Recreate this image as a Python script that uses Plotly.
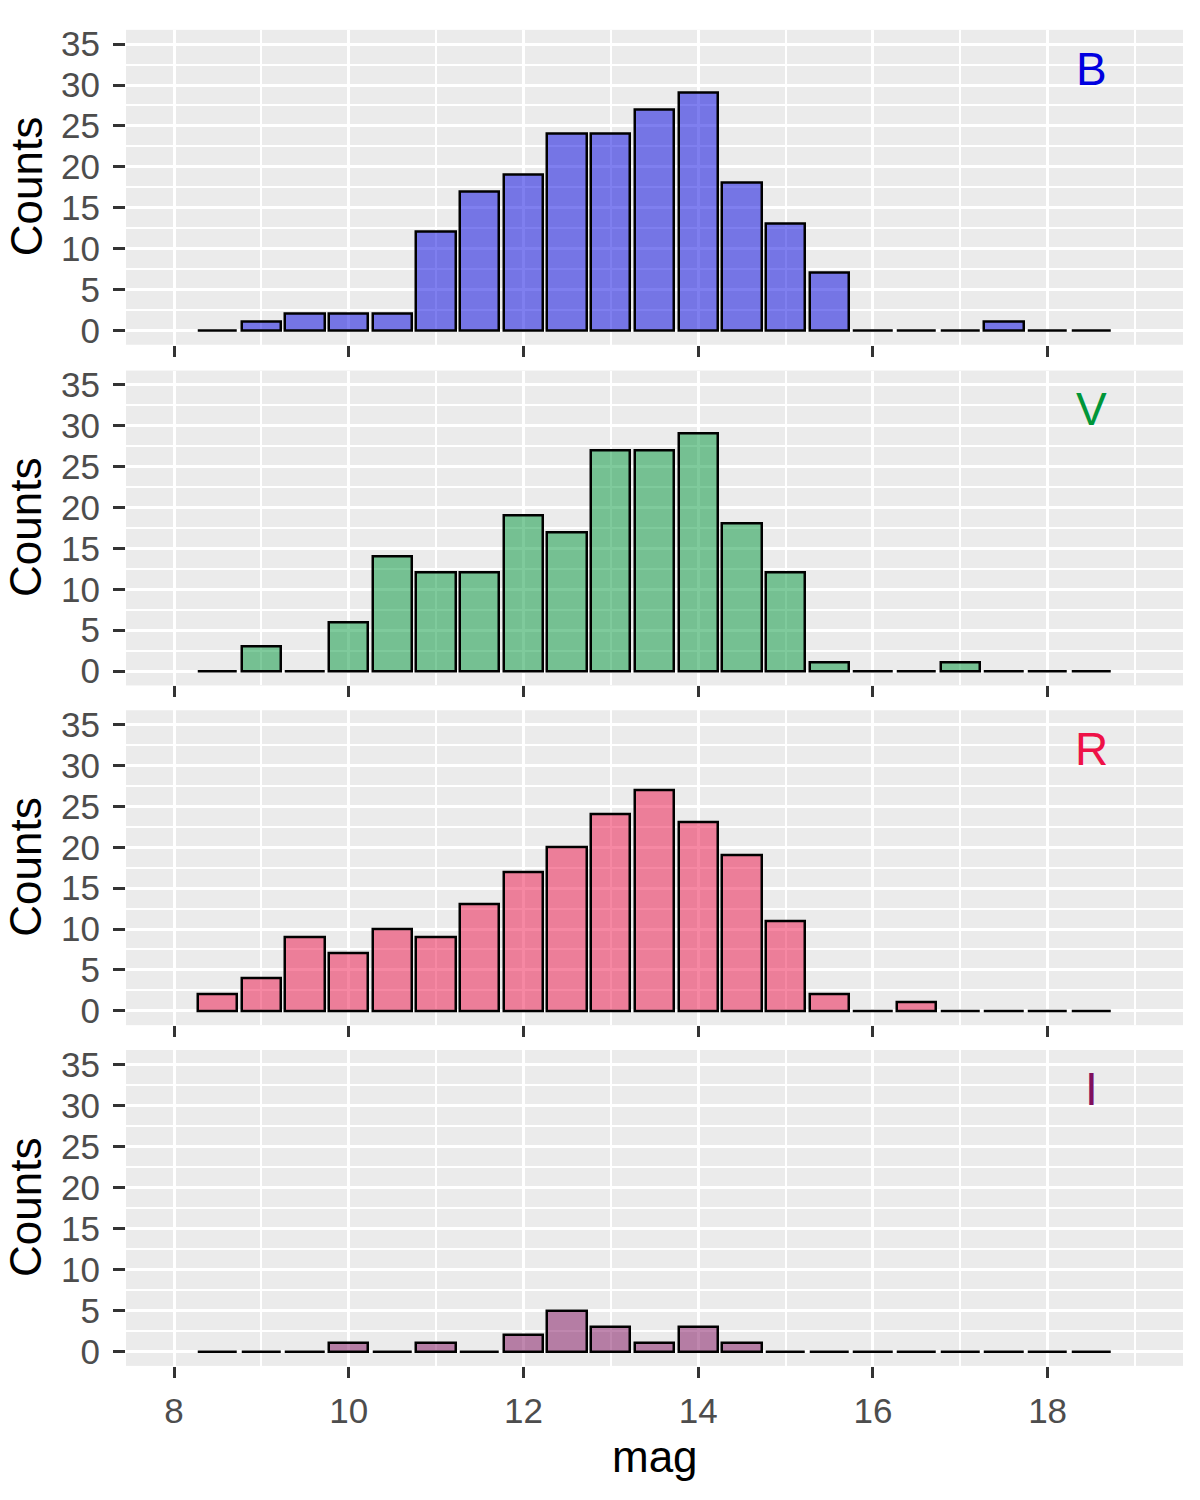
import plotly.graph_objects as go

# bin centres (mag) and counts per filter
mag_bins = [8.5, 9.0, 9.5, 10.0, 10.5, 11.0, 11.5, 12.0, 12.5, 13.0, 13.5,
            14.0, 14.5, 15.0, 15.5, 16.0, 16.5, 17.0, 17.5, 18.0, 18.5]
counts_B = [0, 1, 2, 2, 2, 12, 17, 19, 24, 24, 27, 29, 18, 13, 7, 0, 0, 0, 1, 0, 0]
counts_V = [0, 3, 0, 6, 14, 12, 12, 19, 17, 27, 27, 29, 18, 12, 1, 0, 0, 1, 0, 0, 0]
counts_R = [2, 4, 9, 7, 10, 9, 13, 17, 20, 24, 27, 23, 19, 11, 2, 0, 1, 0, 0, 0, 0]
counts_I = [0, 0, 0, 1, 0, 1, 0, 2, 5, 3, 1, 3, 1, 0, 0, 0, 0, 0, 0, 0, 0]

filters = ["B", "V", "R", "I"]
label_colors = ["#0000e0", "#009639", "#ee1147", "#7f0f5e"]
fill_colors = ["rgba(0,0,224,0.5)", "rgba(0,150,57,0.5)",
               "rgba(238,17,71,0.5)", "rgba(127,15,94,0.5)"]
all_counts = [counts_B, counts_V, counts_R, counts_I]

x_ticks = [8, 10, 12, 14, 16, 18]
y_ticks = [0, 5, 10, 15, 20, 25, 30, 35]

W, H = 1200, 1500
FONT = "Liberation Sans, Arial, Helvetica, sans-serif"

# panel boxes in pixels (top, bottom)
panels_px = [(25, 342), (368, 685), (710, 1027), (1052, 1370)]
x_left, x_right = 126, 1183

fig = go.Figure()

for i, (name, counts) in enumerate(zip(filters, all_counts)):
    n = i + 1
    suffix = "" if n == 1 else str(n)
    fig.add_trace(go.Bar(
        x=mag_bins, y=counts, width=0.45,
        marker=dict(color=fill_colors[i], line=dict(color="black", width=2.5)),
        xaxis="x" + suffix, yaxis="y" + suffix, showlegend=False,
    ))
    top, bot = panels_px[i]
    xa = dict(
        domain=[x_left / W, x_right / W], range=[7.45, 19.55],
        tickvals=x_ticks, ticks="outside", ticklen=11, tickwidth=3,
        tickcolor="#333333", showticklabels=(n == 4), ticklabelstandoff=3,
        tickfont=dict(family=FONT, size=35, color="#4d4d4d"),
        showgrid=True, gridcolor="white", gridwidth=3, zeroline=False,
        minor=dict(dtick=1, tick0=8, showgrid=True, gridcolor="white", gridwidth=1.5),
        anchor="y" + suffix, fixedrange=True,
    )
    ya = dict(
        domain=[1 - bot / H, 1 - top / H], range=[-1.75, 36.75],
        tickvals=y_ticks, ticks="outside", ticklen=12, tickwidth=3,
        tickcolor="#333333", ticklabelstandoff=6,
        tickfont=dict(family=FONT, size=35, color="#4d4d4d"),
        showgrid=True, gridcolor="white", gridwidth=3, zeroline=False,
        minor=dict(dtick=2.5, tick0=0, showgrid=True, gridcolor="white", gridwidth=1.5),
        anchor="x" + suffix, fixedrange=True,
    )
    fig.update_layout({"xaxis" + suffix: xa, "yaxis" + suffix: ya})

    # filter label in the top right corner
    fig.add_annotation(
        x=18.5, y=32, xref="x" + suffix, yref="y" + suffix, text=name,
        showarrow=False, font=dict(family=FONT, size=46, color=label_colors[i]),
    )
    # y axis title
    fig.add_annotation(
        x=26 / W, y=1 - (top + bot) / 2 / H, xref="paper", yref="paper",
        text="Counts", textangle=-90, showarrow=False,
        xanchor="center", yanchor="middle",
        font=dict(family=FONT, size=44, color="black"),
    )

fig.add_annotation(
    x=(x_left + x_right) / 2 / W, y=1 - 1461 / H, xref="paper", yref="paper",
    text="mag", showarrow=False, xanchor="center", yanchor="middle",
    font=dict(family=FONT, size=44, color="black"),
)

fig.update_layout(
    width=W, height=H, margin=dict(l=0, r=0, t=0, b=0),
    paper_bgcolor="white", plot_bgcolor="#ebebeb",
    bargap=0, barmode="overlay",
)

# drop the default body margin and any scrollbars so the figure sits at the page origin
fig.write_html(
    "out.html",
    config={"displayModeBar": False},
    post_script="document.body.style.margin='0px';"
                "document.documentElement.style.overflow='hidden';"
                "document.body.style.overflow='hidden';",
)
